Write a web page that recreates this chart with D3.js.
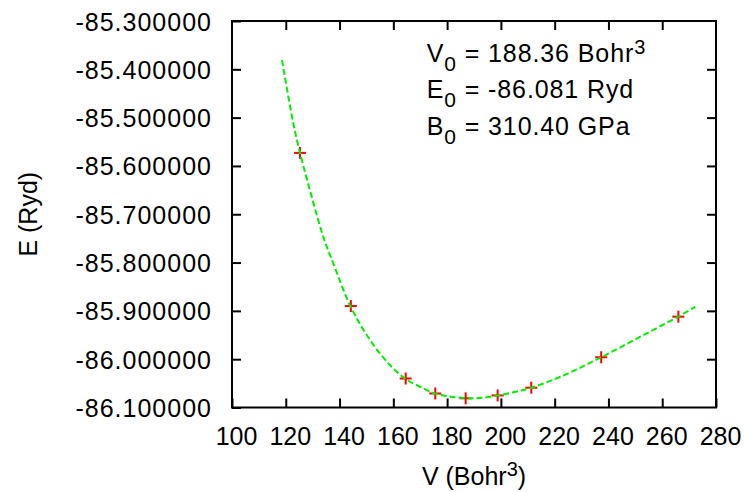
<!DOCTYPE html>
<html>
<head>
<meta charset="utf-8">
<script src="https://cdn.jsdelivr.net/npm/d3@7"></script>
<style>
  html, body { margin: 0; padding: 0; background: #fff; }
  svg { display: block; font-family: "Liberation Sans", Arial, Helvetica, sans-serif; }
</style>
</head>
<body>
<svg id="chart" width="744" height="492"></svg>
<script>
// Computed total energies (Ryd) at each cell volume (Bohr^3)
const volumes  = [125.3, 144.2, 164.6, 175.6, 186.9, 198.8, 211.3, 237.3, 266.0];
const energies = [-85.573, -85.890, -86.040, -86.071, -86.081, -86.075, -86.059, -85.996, -85.912];

// Equation-of-state fit curve, sampled along V
const fitV = [118.6, 122.8, 125.3, 130.0, 134.2, 137.7, 144.1, 151.3, 158.7, 164.6, 169.9,
              175.5, 181.0, 187.0, 190.0, 193.0, 198.9, 205.0, 211.4, 224.4, 237.3, 251.7, 265.9, 272.3];
const fitE = [-85.381, -85.512, -85.573, -85.671, -85.751, -85.802, -85.891, -85.960, -86.012, -86.041, -86.057,
              -86.071, -86.077, -86.081, -86.081, -86.080, -86.075, -86.068, -86.059, -86.031, -85.996, -85.954, -85.912, -85.8915];

// Axis ticks
const xTicks = [100, 120, 140, 160, 180, 200, 220, 240, 260, 280];
const yTicks = [-85.3, -85.4, -85.5, -85.6, -85.7, -85.8, -85.9, -86.0, -86.1];

// Fitted parameters shown in the key
const fitParams = [
  { sym: "V", sub: "0", text: " = 188.36 Bohr", sup: "3" },
  { sym: "E", sub: "0", text: " = -86.081 Ryd", sup: "" },
  { sym: "B", sub: "0", text: " = 310.40 GPa", sup: "" }
];

const svg = d3.select("#chart");
const margin = { left: 232, right: 28, top: 21, bottom: 84.5 };
const W = 744, H = 492;
const iw = W - margin.left - margin.right;
const ih = H - margin.top - margin.bottom;
const FS = 25;

// Plain ASCII hyphen for negative numbers
const locale = d3.formatLocale({ decimal: ".", thousands: ",", grouping: [3], currency: ["$", ""], minus: "-" });

const x = d3.scaleLinear().domain([100, 280]).range([0, iw]);
const y = d3.scaleLinear().domain([-86.1, -85.3]).range([ih, 0]);

const g = svg.append("g").attr("transform", `translate(${margin.left},${margin.top})`);

// Axes with inward ticks (mirrored on top and right)
const tick = 9;
const styleAxis = sel => {
  sel.select(".domain").remove();
  sel.selectAll(".tick line").attr("stroke", "#000").attr("stroke-width", 2);
  sel.selectAll(".tick text").attr("fill", "#000").style("font-size", FS + "px")
     .style("font-family", '"Liberation Sans", Arial, sans-serif');
};

g.append("g").attr("transform", `translate(0,${ih})`)
  .call(d3.axisBottom(x).tickValues(xTicks).tickSizeInner(-tick).tickSizeOuter(0).tickPadding(20).tickFormat(locale.format("d")))
  .call(styleAxis)
  .call(s => s.selectAll(".tick text").attr("dx", 4));

g.append("g")
  .call(d3.axisTop(x).tickValues(xTicks.slice(1, -1)).tickSizeInner(-tick).tickSizeOuter(0).tickFormat(""))
  .call(styleAxis);

g.append("g")
  .call(d3.axisLeft(y).tickValues(yTicks).tickSizeInner(-tick).tickSizeOuter(0).tickPadding(20).tickFormat(locale.format(".6f")))
  .call(styleAxis)
  .call(s => s.selectAll(".tick text").attr("dy", "0.36em").style("letter-spacing", "1px"));

g.append("g").attr("transform", `translate(${iw},0)`)
  .call(d3.axisRight(y).tickValues(yTicks.slice(1, -1)).tickSizeInner(-tick).tickSizeOuter(0).tickFormat(""))
  .call(styleAxis);

// Plot border
g.append("rect").attr("x", 0).attr("y", 0).attr("width", iw).attr("height", ih)
  .attr("fill", "none").attr("stroke", "#000").attr("stroke-width", 2);

// Data points: red crosses
const cs = 6;
const pts = g.append("g").attr("stroke", "#ff0000").attr("stroke-width", 2);
volumes.forEach((v, i) => {
  const px = x(v), py = y(energies[i]);
  pts.append("line").attr("x1", px - cs).attr("x2", px + cs).attr("y1", py).attr("y2", py);
  pts.append("line").attr("x1", px).attr("x2", px).attr("y1", py - cs).attr("y2", py + cs);
});

// Fit curve: green dashed
const line = d3.line().x(d => x(d[0])).y(d => y(d[1])).curve(d3.curveCatmullRom.alpha(0.5));
g.append("path").datum(fitV.map((v, i) => [v, fitE[i]]))
  .attr("d", line).attr("fill", "none")
  .attr("stroke", "#00ee00").attr("stroke-width", 2).attr("stroke-dasharray", "6,3");

// Fitted parameters
const key = g.append("g").attr("fill", "#000").style("font-size", FS + "px").style("letter-spacing", "0.9px");
fitParams.forEach((p, i) => {
  const t = key.append("text").attr("x", 426.7 - margin.left).attr("y", 61.7 - margin.top + i * 36.7);
  t.append("tspan").text(p.sym);
  t.append("tspan").attr("dy", 9).style("font-size", "21px").text(p.sub);
  t.append("tspan").attr("dy", -9).text(p.text);
  if (p.sup) t.append("tspan").attr("dy", -8).style("font-size", "20px").text(p.sup);
});

// Axis titles
const xt = svg.append("text").attr("x", margin.left + iw / 2).attr("y", 485)
  .attr("text-anchor", "middle").style("font-size", FS + "px").attr("fill", "#000");
xt.append("tspan").text("V (Bohr");
xt.append("tspan").attr("dy", -9).style("font-size", "20px").text("3");
xt.append("tspan").attr("dy", 9).text(")");

svg.append("text").attr("transform", `translate(37,${margin.top + ih / 2}) rotate(-90)`)
  .attr("text-anchor", "middle").style("font-size", FS + "px").attr("fill", "#000")
  .text("E (Ryd)");
</script>
</body>
</html>
